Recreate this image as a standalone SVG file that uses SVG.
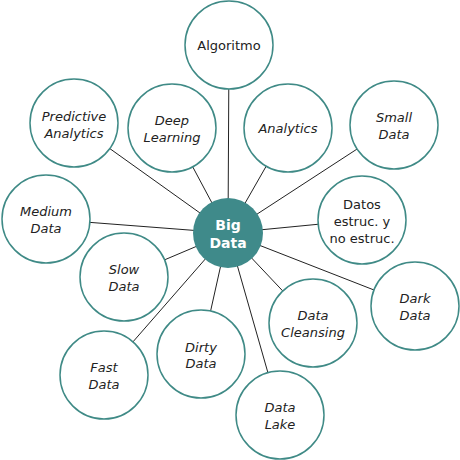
<svg xmlns="http://www.w3.org/2000/svg" width="460" height="460" viewBox="0 0 460 460">
<style>
.n{fill:#fff;stroke:#3f8a86;stroke-width:1.5}
.t{font-family:"DejaVu Sans",sans-serif;font-size:13px;fill:#222;text-anchor:middle;font-style:italic}
.u{font-style:normal}
.c line{stroke:#222;stroke-width:1}
.hub{fill:#3f8a8a}
.ht{font-family:"DejaVu Sans",sans-serif;font-size:14px;font-weight:bold;fill:#fff;text-anchor:middle}
</style>
<rect width="460" height="460" fill="#fff"/>
<g class="c">
<line x1="228" y1="233" x2="229" y2="45"/>
<line x1="228" y1="233" x2="74" y2="123"/>
<line x1="228" y1="233" x2="172" y2="128"/>
<line x1="228" y1="233" x2="288" y2="128"/>
<line x1="228" y1="233" x2="394" y2="125"/>
<line x1="228" y1="233" x2="46" y2="219"/>
<line x1="228" y1="233" x2="362" y2="220"/>
<line x1="228" y1="233" x2="124" y2="277"/>
<line x1="228" y1="233" x2="104" y2="375"/>
<line x1="228" y1="233" x2="201" y2="354"/>
<line x1="228" y1="233" x2="280" y2="415"/>
<line x1="228" y1="233" x2="313" y2="323"/>
<line x1="228" y1="233" x2="415" y2="306"/>
</g>
<g id="algoritmo"><circle class="n" cx="229" cy="45" r="44"/><text class="t u" x="229" y="50">Algoritmo</text></g>
<g id="predictive"><circle class="n" cx="74" cy="123" r="44"/><text class="t" x="74" y="121">Predictive</text><text class="t" x="74" y="138">Analytics</text></g>
<g id="deep"><circle class="n" cx="172" cy="128" r="44"/><text class="t" x="172" y="125">Deep</text><text class="t" x="172" y="142">Learning</text></g>
<g id="analytics"><circle class="n" cx="288" cy="128" r="44"/><text class="t" x="288" y="133">Analytics</text></g>
<g id="small"><circle class="n" cx="394" cy="125" r="44"/><text class="t" x="394" y="122">Small</text><text class="t" x="394" y="139">Data</text></g>
<g id="medium"><circle class="n" cx="46" cy="219" r="44"/><text class="t" x="46" y="216">Medium</text><text class="t" x="46" y="233">Data</text></g>
<g id="datos"><circle class="n" cx="362" cy="220" r="44"/><text class="t u" x="362" y="209">Datos</text><text class="t u" x="362" y="226">estruc. y</text><text class="t u" x="362" y="243">no estruc.</text></g>
<g id="slow"><circle class="n" cx="124" cy="277" r="44"/><text class="t" x="124" y="274">Slow</text><text class="t" x="124" y="291">Data</text></g>
<g id="fast"><circle class="n" cx="104" cy="375" r="44"/><text class="t" x="104" y="372">Fast</text><text class="t" x="104" y="389">Data</text></g>
<g id="dirty"><circle class="n" cx="201" cy="354" r="44"/><text class="t" x="201" y="352">Dirty</text><text class="t" x="201" y="368">Data</text></g>
<g id="lake"><circle class="n" cx="280" cy="415" r="44"/><text class="t" x="280" y="412">Data</text><text class="t" x="280" y="429">Lake</text></g>
<g id="cleansing"><circle class="n" cx="313" cy="323" r="44"/><text class="t" x="313" y="320">Data</text><text class="t" x="313" y="337">Cleansing</text></g>
<g id="dark"><circle class="n" cx="415" cy="306" r="44"/><text class="t" x="415" y="303">Dark</text><text class="t" x="415" y="320">Data</text></g>
<g id="bigdata"><circle class="hub" cx="228" cy="233" r="35"/><text class="ht" x="228" y="230">Big</text><text class="ht" x="228" y="248">Data</text></g>
</svg>
